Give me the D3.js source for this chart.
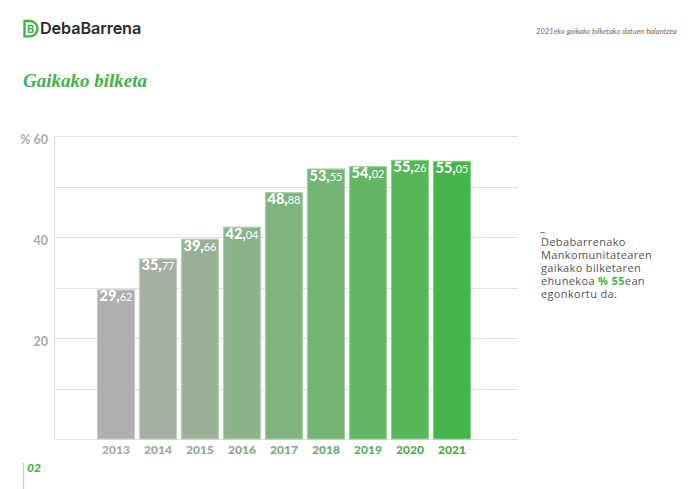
<!DOCTYPE html>
<html><head><meta charset="utf-8">
<script src="https://cdn.jsdelivr.net/npm/d3@7"></script>
<style>
html,body{margin:0;padding:0;background:#fff;}
svg{display:block;}
</style></head>
<body>
<svg id="c" width="700" height="489"></svg>
<script>
const years = ["2013","2014","2015","2016","2017","2018","2019","2020","2021"];
const values = [29.62, 35.77, 39.66, 42.04, 48.88, 53.55, 54.02, 55.26, 55.05];
const barColors = ["#afafb1","#a5b0a2","#9ab198","#8db38b","#80b47e","#73b572","#64b664","#55b757","#43b54a"];
const yTicks = [0,10,20,30,40,50,60];
const yTickLabels = {20:"20", 40:"40", 60:"% 60"};
const noteLines = ["Debabarrenako","Mankomunitatearen","gaikako bilketaren"];

const svg = d3.select("#c");
const green = "#3fb44a";

// header
const logo = svg.append("g");
logo.append("path")
  .attr("d","M24.5,21 L30,21 A7.5,7.7 0 0 1 30,36.4 L24.5,36.4 Z")
  .attr("fill","none").attr("stroke",green).attr("stroke-width",2.4);
logo.append("text").attr("x",27).attr("y",33.2)
  .attr("font-family","Inter").attr("font-weight",700).attr("font-size",11)
  .attr("fill",green).text("B");
svg.append("text").attr("x",40).attr("y",34)
  .attr("font-family","Inter").attr("font-weight",600).attr("font-size",16.2)
  .attr("letter-spacing","-0.1").attr("fill","#2a2a2c").text("DebaBarrena");
svg.append("text").attr("x",677).attr("y",34).attr("text-anchor","end")
  .attr("font-family","Lato").attr("font-style","italic").attr("font-size",7.6)
  .attr("fill","#6e6e6e").text("2021eko gaikako bilketako datuen balantzea");

svg.append("text").attr("x",23).attr("y",87)
  .attr("font-family","Liberation Serif").attr("font-style","italic").attr("font-weight",700)
  .attr("font-size",19).attr("fill",green).text("Gaikako bilketa");

// scales
const x = d3.scaleBand().domain(years).range([95,473]).paddingInner(0.095).paddingOuter(0.0475);
const y = d3.scaleLinear().domain([0,60]).range([439,136]);

// grid
const gridG = svg.append("g");
gridG.selectAll("line").data(yTicks).join("line")
  .attr("x1",54).attr("x2",518)
  .attr("y1",d=>Math.round(y(d))+0.5).attr("y2",d=>Math.round(y(d))+0.5)
  .attr("stroke","#e2e2e2").attr("stroke-width",1.2);
svg.append("line").attr("x1",54.5).attr("x2",54.5).attr("y1",y(60)).attr("y2",y(0)+1)
  .attr("stroke","#e2e2e2").attr("stroke-width",1.2);

// y labels
svg.append("g").selectAll("text").data(yTicks.filter(d=>yTickLabels[d])).join("text")
  .attr("x",48).attr("y",d=>y(d)+8).attr("text-anchor","end")
  .attr("font-family","Lato").attr("font-weight",700).attr("font-size",12.5)
  .attr("fill","#a9a9a9").text(d=>yTickLabels[d]);

// bars
const data = years.map((yr,i)=>({yr, v:values[i], c:barColors[i]}));
svg.append("g").selectAll("rect").data(data).join("rect")
  .attr("x",d=>x(d.yr)+0.5).attr("y",d=>y(d.v)+0.5)
  .attr("width",x.bandwidth()-1).attr("height",d=>y(0)-y(d.v)-0.5)
  .attr("fill",d=>d.c)
  .attr("stroke",d=>d3.interpolateRgb(d.c,"#ffffff")(0.35)).attr("stroke-width",1.2);

// value labels
const lab = svg.append("g").selectAll("text").data(data).join("text")
  .attr("x",d=>x(d.yr)+x.bandwidth()/2).attr("y",d=>y(d.v)+12)
  .attr("text-anchor","middle").attr("fill","#fff").attr("font-family","Lato");
lab.append("tspan").attr("font-weight",900).attr("font-size",14.5)
  .text(d=>d.v.toFixed(2).split(".")[0]+",");
lab.append("tspan").attr("font-weight",400).attr("font-size",11)
  .text(d=>d.v.toFixed(2).split(".")[1]);

// x labels
svg.append("g").selectAll("text").data(data).join("text")
  .attr("x",d=>x(d.yr)+x.bandwidth()/2).attr("y",454)
  .attr("text-anchor","middle").attr("font-family","Lato").attr("font-weight",900)
  .attr("font-size",12).attr("fill",d=>d3.color(d.c).darker(0.15)).text(d=>d.yr);

// note
const note = svg.append("g").attr("font-family","Open Sans").attr("font-size",11)
  .attr("letter-spacing","0.35").attr("fill","#555");
note.append("text").attr("x",540).attr("y",231).text("_");
noteLines.forEach((t,i)=>note.append("text").attr("x",541).attr("y",246+i*12.9).text(t));
const l4 = note.append("text").attr("x",541).attr("y",246+3*12.9);
l4.append("tspan").text("ehunekoa ");
l4.append("tspan").attr("font-weight",700).attr("fill",green).text("% 55");
l4.append("tspan").text("ean");
note.append("text").attr("x",541).attr("y",246+4*12.9).text("egonkortu da.");

// footer
svg.append("line").attr("x1",23.5).attr("x2",23.5).attr("y1",463).attr("y2",489)
  .attr("stroke","#b7e0b7").attr("stroke-width",1.2);
svg.append("text").attr("x",27).attr("y",472).attr("font-family","Lato")
  .attr("font-style","italic").attr("font-weight",900).attr("font-size",12)
  .attr("fill",green).text("02");
</script>
</body></html>
